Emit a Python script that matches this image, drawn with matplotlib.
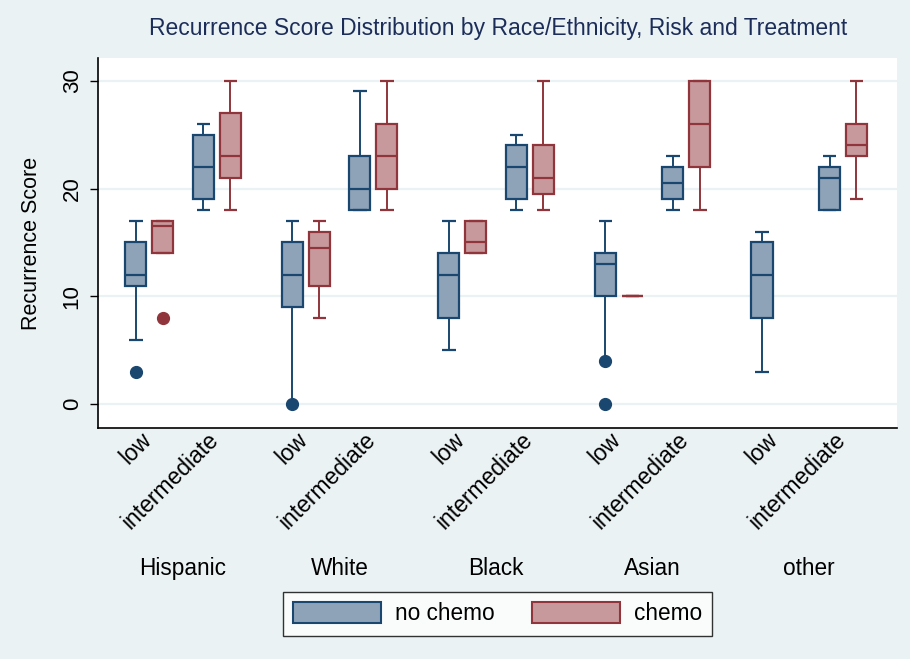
import matplotlib
matplotlib.use("Agg")
import matplotlib.pyplot as plt
from matplotlib.patches import Patch
from matplotlib.transforms import blended_transform_factory

plt.rcParams['font.family'] = ['Liberation Sans', 'DejaVu Sans']

# categories
races = ["Hispanic", "White", "Black", "Asian", "other"]
risks = ["low", "intermediate"]
treatments = ["no chemo", "chemo"]

# box statistics, ordered race by race, low then intermediate
nochemo_whislo = [6, 18, 0, 18, 5, 18, 4, 18, 3, 18]
nochemo_q1 = [11, 19, 9, 18, 8, 19, 10, 19, 8, 18]
nochemo_med = [12, 22, 12, 20, 12, 22, 13, 20.5, 12, 21]
nochemo_q3 = [15, 25, 15, 23, 14, 24, 14, 22, 15, 22]
nochemo_whishi = [17, 26, 17, 29, 17, 25, 17, 23, 16, 23]
nochemo_fliers = [[3], [], [0], [], [], [], [4, 0], [], [], []]

chemo_whislo = [14, 18, 8, 18, 14, 18, 10, 18, None, 19]
chemo_q1 = [14, 21, 11, 20, 14, 19.5, 10, 22, None, 23]
chemo_med = [16.5, 23, 14.5, 23, 15, 21, 10, 26, None, 24]
chemo_q3 = [17, 27, 16, 26, 17, 24, 10, 30, None, 26]
chemo_whishi = [17, 30, 17, 30, 17, 30, 10, 30, None, 30]
chemo_fliers = [[8], [], [], [], [], [], [], [], None, []]

yticks = [0, 10, 20, 30]

colors = {"no chemo": ("#8ea3b8", "#1a476f"), "chemo": ("#c8999c", "#90353b")}
series = {
    "no chemo": (nochemo_whislo, nochemo_q1, nochemo_med, nochemo_q3, nochemo_whishi, nochemo_fliers),
    "chemo": (chemo_whislo, chemo_q1, chemo_med, chemo_q3, chemo_whishi, chemo_fliers),
}

bg = "#eaf2f3"
fig = plt.figure(figsize=(9.1, 6.59), dpi=100, facecolor=bg)
ax = fig.add_axes([0.1077, 0.3505, 0.878, 0.5615])
ax.set_facecolor("white")

group_step, risk_step, treat_step = 5.8, 2.5, 1.0

for t, name in enumerate(treatments):
    lo, q1, med, q3, hi, fl = series[name]
    fill, edge = colors[name]
    stats, pos = [], []
    for i in range(len(lo)):
        if lo[i] is None:
            continue
        g, r = divmod(i, 2)
        stats.append(dict(whislo=lo[i], q1=q1[i], med=med[i], q3=q3[i],
                          whishi=hi[i], fliers=fl[i]))
        pos.append(g * group_step + r * risk_step + t * treat_step)
    ax.bxp(stats, positions=pos, widths=0.78, patch_artist=True,
           showfliers=True, manage_ticks=False,
           boxprops=dict(facecolor=fill, edgecolor=edge, linewidth=1.6),
           medianprops=dict(color=edge, linewidth=1.6),
           whiskerprops=dict(color=edge, linewidth=1.4),
           capprops=dict(color=edge, linewidth=1.6, solid_capstyle='butt'),
           capwidths=0.5,
           flierprops=dict(marker='o', markerfacecolor=edge, markeredgecolor=edge,
                           markersize=8.5))

ax.set_xlim(-1.4, 28.2)
ax.set_ylim(-2.2, 32.1)
ax.set_yticks(yticks)
ax.set_yticklabels([str(v) for v in yticks], rotation=90, va='center', fontsize=16)
ax.yaxis.grid(True, color=bg, linewidth=1.6)
ax.set_axisbelow(True)
ax.tick_params(axis='y', length=6, width=1, color='black', pad=5)
ax.set_ylabel("Recurrence Score", fontsize=15.5, labelpad=14)

# risk tick labels under each pair of boxes
xt, xl = [], []
for g in range(len(races)):
    for r, risk in enumerate(risks):
        xt.append(g * group_step + r * risk_step + treat_step / 2 + 0.25)
        xl.append(risk)
ax.set_xticks(xt)
ax.set_xticklabels(xl, rotation=45, ha='right', va='top', fontsize=16.5)
ax.tick_params(axis='x', length=0, pad=0)

# race labels
trans = blended_transform_factory(ax.transData, ax.transAxes)
for g, race in enumerate(races):
    ax.text(g * group_step + (risk_step + treat_step) / 2, -0.38, race,
            transform=trans, ha='center', va='center', fontsize=16.3)

for side in ['top', 'right']:
    ax.spines[side].set_visible(False)
ax.spines['left'].set_linewidth(1.2)
ax.spines['bottom'].set_linewidth(1.2)

fig.text(0.547, 0.956, "Recurrence Score Distribution by Race/Ethnicity, Risk and Treatment",
         ha='center', va='center', fontsize=16.5, color='#1c2d5a')

handles = [Patch(facecolor=colors[n][0], edgecolor=colors[n][1], linewidth=1.5) for n in treatments]
leg = fig.legend(handles, treatments, loc='center', bbox_to_anchor=(0.5467, 0.0685),
                 ncol=2, fontsize=16.3, frameon=True, fancybox=False,
                 handlelength=3.9, handleheight=1.05, handletextpad=0.6,
                 columnspacing=1.65, borderpad=0.45)
leg.get_frame().set_edgecolor('black')
leg.get_frame().set_linewidth(1.0)

fig.savefig("out.png", dpi=100, facecolor=bg)
